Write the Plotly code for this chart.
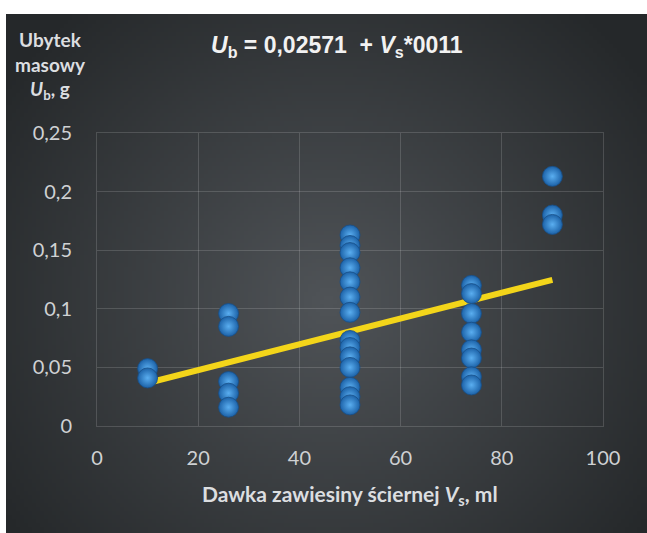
import base64, struct, zlib
import numpy as np
import plotly.graph_objects as go

# ---- data ----
dose_10 = [0.049, 0.041]
dose_26 = [0.096, 0.085, 0.038, 0.028, 0.016]
dose_50 = [0.163, 0.154, 0.148, 0.135, 0.123, 0.110, 0.097, 0.073, 0.067, 0.059, 0.050, 0.033, 0.025, 0.018]
dose_74 = [0.120, 0.113, 0.096, 0.080, 0.065, 0.058, 0.042, 0.035]
dose_90 = [0.213, 0.180, 0.172]
doses = [10, 26, 50, 74, 90]
groups = [dose_10, dose_26, dose_50, dose_74, dose_90]
intercept = 0.02571
slope = 0.0011
x_ticks = [0, 20, 40, 60, 80, 100]
y_ticks = [0, 0.05, 0.1, 0.15, 0.2, 0.25]

xs, ys = [], []
for d, g in zip(doses, groups):
    xs += [d] * len(g)
    ys += g
trend_x = [min(doses), max(doses)]
trend_y = [intercept + slope * v for v in trend_x]

# ---- background gradient image ----
W, H = 647, 533
L, R, T, B = 97, 44, 133, 107
PW, PH = W - L - R, H - T - B
panel = (6, 14, 647, 533)
iw, ih = 160, 128
yy, xx = np.mgrid[0:ih, 0:iw]
cx, cy = 0.50 * iw, 0.55 * ih
d = np.sqrt(((xx - cx) / (0.62 * iw)) ** 2 + ((yy - cy) / (0.75 * ih)) ** 2)
d = np.clip(d, 0, 1)
c_in = np.array([80, 84, 88], float)
c_out = np.array([37, 40, 42], float)
img = (c_in[None, None, :] * (1 - d[..., None]) + c_out[None, None, :] * d[..., None]).astype(np.uint8)


def to_png(a):
    h, w, _ = a.shape
    raw = b"".join(b"\x00" + a[r].tobytes() for r in range(h))

    def chunk(t, data):
        c = struct.pack(">I", len(data)) + t + data
        return c + struct.pack(">I", zlib.crc32(t + data) & 0xFFFFFFFF)

    return (b"\x89PNG\r\n\x1a\n" + chunk(b"IHDR", struct.pack(">IIBBBBB", w, h, 8, 2, 0, 0, 0))
            + chunk(b"IDAT", zlib.compress(raw, 9)) + chunk(b"IEND", b""))


src = "data:image/png;base64," + base64.b64encode(to_png(img)).decode()


def px(x):
    return (x - L) / PW


def py(y):
    return (H - B - y) / PH


fig = go.Figure()
fig.add_trace(go.Scatter(x=trend_x, y=trend_y, mode="lines",
                         line=dict(color="#f3d51a", width=6), hoverinfo="skip"))
fig.add_trace(go.Scatter(x=xs, y=ys, mode="markers",
                         marker=dict(size=20, color="#1c62a8",
                                     gradient=dict(type="radial", color="#5aaef0"),
                                     line=dict(color="#184f88", width=0.8))))

grid = "rgba(255,255,255,0.15)"
tickfont = dict(family="Lato, 'Open Sans', sans-serif", size=20, color="#cfd1d3")
fig.update_layout(
    width=W, height=H,
    margin=dict(l=L, r=R, t=T, b=B),
    paper_bgcolor="white",
    plot_bgcolor="rgba(0,0,0,0)",
    showlegend=False,
    separators=", ",
    xaxis=dict(range=[0, 100], tickvals=x_ticks, showgrid=True, gridcolor=grid, gridwidth=1,
               zeroline=False, showline=True, linecolor=grid, mirror=True, automargin=False,
               ticks="outside", ticklen=14, tickcolor="rgba(0,0,0,0)", tickfont=tickfont),
    yaxis=dict(range=[0, 0.25], tickvals=y_ticks, showgrid=True, gridcolor=grid, gridwidth=1,
               zeroline=False, showline=True, linecolor=grid, mirror=True, automargin=False,
               ticks="outside", ticklen=20, tickcolor="rgba(0,0,0,0)", tickfont=tickfont),
    images=[dict(source=src, xref="paper", yref="paper", x=px(panel[0]), y=py(panel[1]),
                 sizex=(panel[2] - panel[0]) / PW, sizey=(panel[3] - panel[1]) / PH,
                 xanchor="left", yanchor="top", sizing="stretch", layer="below")],
    annotations=[
        dict(text="<i>U</i><sub>b</sub> = 0,02571  + <i>V</i><sub>s</sub>*0011",
             xref="paper", yref="paper", x=px(337), y=py(46), xanchor="center", yanchor="middle",
             showarrow=False, font=dict(family="'Liberation Sans', Arial, sans-serif", size=23,
                                        color="#f2f2f2", weight="bold")),
        dict(text="Ubytek<br>masowy<br><i>U</i><sub>b</sub>, g",
             xref="paper", yref="paper", x=px(50), y=py(65), xanchor="center", yanchor="middle",
             align="center", showarrow=False,
             font=dict(family="Lato, 'Open Sans', sans-serif", size=19, color="#dcdee0", weight="bold")),
        dict(text="Dawka zawiesiny ściernej <i>V</i><sub>s</sub>, ml",
             xref="paper", yref="paper", x=px(350), y=py(495), xanchor="center", yanchor="middle",
             showarrow=False,
             font=dict(family="Lato, 'Open Sans', sans-serif", size=21, color="#dcdee0", weight="bold")),
    ],
)
fig.write_html("out.html", config={"displayModeBar": False},
               post_script="document.body.style.margin='0px';")
